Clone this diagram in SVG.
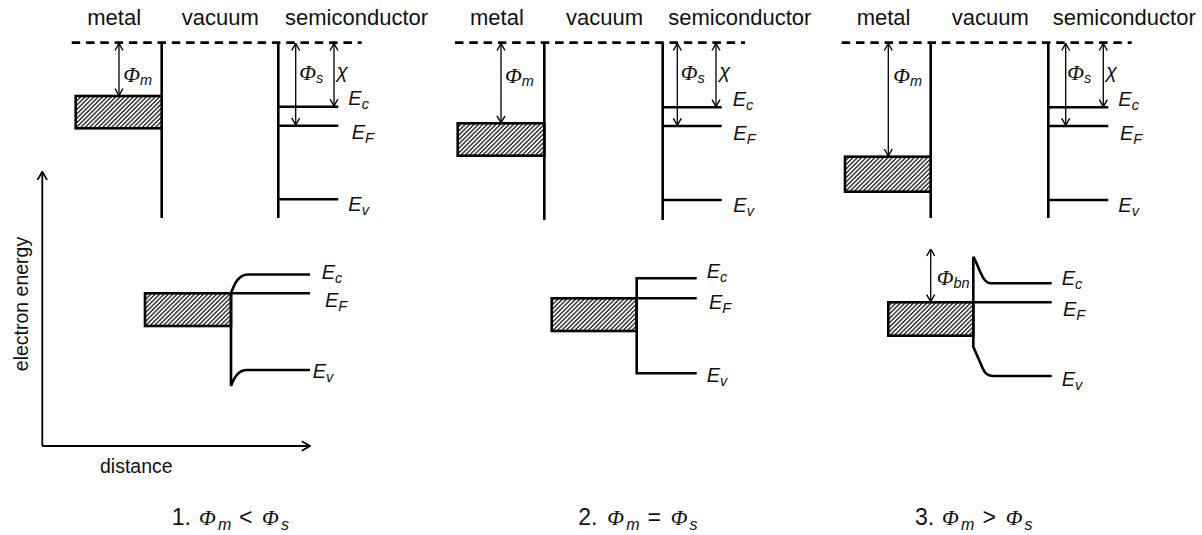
<svg xmlns="http://www.w3.org/2000/svg" width="1202" height="535" viewBox="0 0 1202 535">
<defs>
<style>
.ln{stroke:#000;stroke-width:2.6;fill:none}
.vac{stroke:#000;stroke-width:2.7;stroke-dasharray:8.5 5.8;fill:none}
.ar{stroke:#000;stroke-width:1.3;fill:none;marker-start:url(#ah);marker-end:url(#ah)}
.ax{stroke:#000;stroke-width:1.8;fill:none;marker-end:url(#axh)}
.box{fill:url(#hatch);stroke:#000;stroke-width:2.6}
text{font-family:"Liberation Sans",Arial,sans-serif;fill:#111}
.hd{font-size:22px}
.sym{font-size:20px;font-style:italic}
.phi{font-family:"Liberation Serif","Times New Roman",serif;font-size:22px}
.sub{font-size:14.5px;font-family:"Liberation Sans",Arial,sans-serif}
.cap{font-size:23px}
.ax-l{font-size:19.5px}
</style>
<pattern id="hatch" width="3.1" height="3.1" patternUnits="userSpaceOnUse" patternTransform="rotate(45)">
<rect width="3.1" height="3.1" fill="#fff"/>
<line x1="1.55" y1="0" x2="1.55" y2="3.1" stroke="#222" stroke-width="1.35"/>
</pattern>
<marker id="ah" viewBox="0 0 8 10" refX="7.5" refY="5" markerWidth="8" markerHeight="10" orient="auto-start-reverse" markerUnits="userSpaceOnUse">
<path d="M0.5,1 L7.5,5 L0.5,9" fill="none" stroke="#000" stroke-width="1.4"/>
</marker>
<marker id="axh" viewBox="0 0 10 12" refX="9.2" refY="6" markerWidth="10" markerHeight="12" orient="auto" markerUnits="userSpaceOnUse">
<path d="M1,1.2 L9.2,6 L1,10.8" fill="none" stroke="#000" stroke-width="1.8"/>
</marker>
</defs>

<g id="axes">
<line class="ax" x1="42.3" y1="446" x2="42.3" y2="171.7"/>
<line class="ax" x1="42.3" y1="446" x2="310" y2="446"/>
<text class="ax-l" transform="translate(28,304) rotate(-90)" text-anchor="middle">electron energy</text>
<text class="ax-l" x="100" y="473">distance</text>
</g>

<g id="panel1-top">
<text class="hd" x="87.3" y="25">metal</text>
<text class="hd" x="181.7" y="25">vacuum</text>
<text class="hd" x="285" y="25">semiconductor</text>
<line class="vac" x1="71.7" y1="42.7" x2="361.7" y2="42.7"/>
<path class="ln" d="M161.7,42.7 V218"/>
<rect class="box" x="75.7" y="96" width="86" height="32.3"/>
<path class="ln" d="M278.3,42.7 V218 M278.3,106.7 H338.3 M278.3,125.7 H338.3 M278.3,199.3 H338.3"/>
<g id="p1-arrows">
<line class="ar" x1="119" y1="43.5" x2="119" y2="95.5"/>
<line class="ar" x1="295.7" y1="43.5" x2="295.7" y2="125"/>
<line class="ar" x1="334" y1="43.5" x2="334" y2="106"/>
</g>
<text class="sym" x="123.3" y="81.7"><tspan class="phi">Φ</tspan><tspan class="sub" dy="3">m</tspan></text>
<text class="sym" x="299.3" y="80"><tspan class="phi">Φ</tspan><tspan class="sub" dy="3">s</tspan></text>
<text class="sym" x="336.7" y="78">χ</text>
<text class="sym" x="348.3" y="105">E<tspan class="sub" dy="4">c</tspan></text>
<text class="sym" x="351.7" y="139">E<tspan class="sub" dy="4">F</tspan></text>
<text class="sym" x="348.3" y="211">E<tspan class="sub" dy="4">v</tspan></text>
</g>

<g id="panel2-top">
<text class="hd" x="470" y="25">metal</text>
<text class="hd" x="566" y="25">vacuum</text>
<text class="hd" x="668.3" y="25">semiconductor</text>
<line class="vac" x1="455" y1="42.7" x2="745" y2="42.7"/>
<path class="ln" d="M544.3,42.7 V220"/>
<rect class="box" x="457.7" y="123.3" width="86.6" height="32.4"/>
<path class="ln" d="M662.7,42.7 V220 M662.7,107.3 H721.7 M662.7,126 H721.7 M662.7,200 H721.7"/>
<g id="p2-arrows">
<line class="ar" x1="501" y1="43.5" x2="501" y2="122.8"/>
<line class="ar" x1="677.3" y1="43.5" x2="677.3" y2="125.3"/>
<line class="ar" x1="716" y1="43.5" x2="716" y2="106.6"/>
</g>
<text class="sym" x="505" y="83"><tspan class="phi">Φ</tspan><tspan class="sub" dy="3">m</tspan></text>
<text class="sym" x="680.7" y="80"><tspan class="phi">Φ</tspan><tspan class="sub" dy="3">s</tspan></text>
<text class="sym" x="719.3" y="78">χ</text>
<text class="sym" x="732.7" y="106">E<tspan class="sub" dy="4">c</tspan></text>
<text class="sym" x="733.3" y="140">E<tspan class="sub" dy="4">F</tspan></text>
<text class="sym" x="733.3" y="212">E<tspan class="sub" dy="4">v</tspan></text>
</g>

<g id="panel3-top">
<text class="hd" x="856.7" y="25">metal</text>
<text class="hd" x="951.7" y="25">vacuum</text>
<text class="hd" x="1052.7" y="25">semiconductor</text>
<line class="vac" x1="841.7" y1="42.7" x2="1131.7" y2="42.7"/>
<path class="ln" d="M930.7,42.7 V218"/>
<rect class="box" x="845" y="156.7" width="85.7" height="35"/>
<path class="ln" d="M1048.3,42.7 V218 M1048.3,107.3 H1108.3 M1048.3,126 H1108.3 M1048.3,200 H1108.3"/>
<g id="p3-arrows">
<line class="ar" x1="888.3" y1="43.5" x2="888.3" y2="156"/>
<line class="ar" x1="1065.7" y1="43.5" x2="1065.7" y2="125.3"/>
<line class="ar" x1="1103.3" y1="43.5" x2="1103.3" y2="106.6"/>
</g>
<text class="sym" x="893.3" y="83"><tspan class="phi">Φ</tspan><tspan class="sub" dy="3">m</tspan></text>
<text class="sym" x="1067.3" y="80"><tspan class="phi">Φ</tspan><tspan class="sub" dy="3">s</tspan></text>
<text class="sym" x="1106" y="78">χ</text>
<text class="sym" x="1118.3" y="106">E<tspan class="sub" dy="4">c</tspan></text>
<text class="sym" x="1120" y="140">E<tspan class="sub" dy="4">F</tspan></text>
<text class="sym" x="1118.3" y="212">E<tspan class="sub" dy="4">v</tspan></text>
</g>

<g id="panel1-bottom">
<rect class="box" x="145" y="293.3" width="86" height="32.7"/>
<path class="ln" d="M231,293.3 V386 C234,378 238,370 247,370 H310"/>
<path class="ln" d="M231,293.3 C234,285 238,274.5 248,274.5 H310"/>
<path class="ln" d="M231,293.3 H310"/>
<text class="sym" x="321.7" y="279">E<tspan class="sub" dy="4">c</tspan></text>
<text class="sym" x="325" y="307">E<tspan class="sub" dy="4">F</tspan></text>
<text class="sym" x="312.7" y="378">E<tspan class="sub" dy="4">v</tspan></text>
</g>

<g id="panel2-bottom">
<rect class="box" x="551.7" y="298.3" width="85" height="32.7"/>
<path class="ln" d="M696.7,278.3 H636.7 V373.3 H696.7 M636.7,298.3 H696.7"/>
<text class="sym" x="706.7" y="278">E<tspan class="sub" dy="4">c</tspan></text>
<text class="sym" x="709" y="309">E<tspan class="sub" dy="4">F</tspan></text>
<text class="sym" x="706.7" y="382">E<tspan class="sub" dy="4">v</tspan></text>
</g>

<g id="panel3-bottom">
<rect class="box" x="888.3" y="302.3" width="85" height="33.4"/>
<path class="ln" d="M973.3,256.7 V346.7 L983,369 Q986,376 993,376 H1051.7"/>
<path class="ln" d="M973.3,256.7 C979,266 982,283.3 991,283.3 H1051.7"/>
<path class="ln" d="M973.3,302.3 H1051.7"/>
<line class="ar" x1="930.7" y1="249" x2="930.7" y2="301.6"/>
<text class="sym" x="936.7" y="285"><tspan class="phi">Φ</tspan><tspan class="sub" dy="3">bn</tspan></text>
<text class="sym" x="1061.7" y="285">E<tspan class="sub" dy="4">c</tspan></text>
<text class="sym" x="1063" y="316">E<tspan class="sub" dy="4">F</tspan></text>
<text class="sym" x="1061.7" y="386">E<tspan class="sub" dy="4">v</tspan></text>
</g>

<g id="captions">
<text class="cap" y="525"><tspan x="171.7">1.</tspan><tspan x="199" class="phi" font-size="25" font-style="italic">Φ</tspan><tspan x="218" dy="5" font-size="16" font-style="italic">m</tspan><tspan x="239" dy="-5">&lt;</tspan><tspan x="262" class="phi" font-size="25" font-style="italic">Φ</tspan><tspan x="281" dy="5" font-size="16" font-style="italic">s</tspan></text>
<text class="cap" y="525"><tspan x="578.3">2.</tspan><tspan x="607.3" class="phi" font-size="25" font-style="italic">Φ</tspan><tspan x="626.3" dy="5" font-size="16" font-style="italic">m</tspan><tspan x="647.5" dy="-5">=</tspan><tspan x="670.7" class="phi" font-size="25" font-style="italic">Φ</tspan><tspan x="689.5" dy="5" font-size="16" font-style="italic">s</tspan></text>
<text class="cap" y="525"><tspan x="915">3.</tspan><tspan x="942" class="phi" font-size="25" font-style="italic">Φ</tspan><tspan x="961" dy="5" font-size="16" font-style="italic">m</tspan><tspan x="982.5" dy="-5">&gt;</tspan><tspan x="1005.7" class="phi" font-size="25" font-style="italic">Φ</tspan><tspan x="1024.5" dy="5" font-size="16" font-style="italic">s</tspan></text>
</g>
</svg>
